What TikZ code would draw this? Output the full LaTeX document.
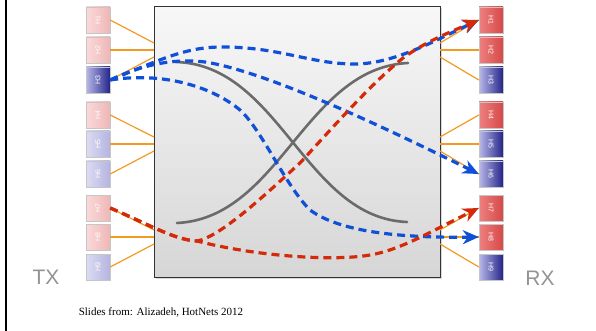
\documentclass[tikz,border=0pt]{standalone}
\usepackage{graphicx}
\usepackage{fontspec}
\setmainfont{Liberation Serif}
\newfontfamily\hv{Liberation Sans}
\usetikzlibrary{arrows.meta,shadows}
\definecolor{lnk}{HTML}{F39A22}
\definecolor{fblue}{HTML}{1050D8}
\definecolor{fred}{HTML}{D42A0A}
\definecolor{lredA}{HTML}{FADADA}
\definecolor{lredB}{HTML}{EFB6B6}
\definecolor{lblueA}{HTML}{DCDCF4}
\definecolor{lblueB}{HTML}{B4B4E0}
\definecolor{dblueA}{HTML}{B8B8E8}
\definecolor{dblueB}{HTML}{3434A0}
\definecolor{dblueC}{HTML}{24248A}
\definecolor{redA}{HTML}{EE8080}
\definecolor{redB}{HTML}{D64848}
\tikzset{
  host/.style={minimum width=24pt, minimum height=26pt, inner sep=0pt,
    font=\hv\fontsize{7}{7}\selectfont, text=white, draw=gray!45, line width=0.4pt,
    drop shadow={shadow xshift=1pt, shadow yshift=-1pt, opacity=0.25}},
  hlred/.style={host, left color=lredA, right color=lredB},
  hlblue/.style={host, left color=lblueA, right color=lblueB},
  hdblue/.style={host, left color=dblueA, middle color=dblueB, right color=dblueC},
  hred/.style={host, left color=redA, right color=redB},
  link/.style={draw=lnk, line width=1.2pt},
  switchbox/.style={minimum width=286pt, minimum height=270pt, inner sep=0pt,
    top color=gray!6, bottom color=gray!32, draw=black!80, line width=1pt,
    drop shadow={shadow xshift=1.5pt, shadow yshift=-1.5pt, opacity=0.3}},
  sway/.style={draw=black!58, line width=2.6pt, line cap=round},
  flow/.style={line width=3.2pt, dash pattern=on 8pt off 5pt,
    -{Stealth[length=16pt, width=14pt, inset=5pt]}},
  bflow/.style={flow, draw=fblue},
  rflow/.style={flow, draw=fred},
  sidelabel/.style={font=\hv\fontsize{21}{21}\selectfont, text=gray!85},
}
\begin{document}
\begin{tikzpicture}[x=1pt, y=-1pt]
\useasboundingbox (0,0) rectangle (596,331);
\draw[line width=2.6pt] (6,0) -- (6,331);

% switch
\node[switchbox] (sw) at (297,142) {};

% left hosts
\node[hlred]  (lh1) at (98,20)  {\rotatebox{90}{H1}};
\node[hlred]  (lh2) at (98,50)  {\rotatebox{90}{H2}};
\node[hdblue] (lh3) at (98,80)  {\rotatebox{90}{H3}};
\node[hlred]  (lh4) at (98,115) {\rotatebox{90}{H4}};
\node[hlblue] (lh5) at (98,144) {\rotatebox{90}{H5}};
\node[hlblue] (lh6) at (98,174) {\rotatebox{90}{H6}};
\node[hlred]  (lh7) at (98,208) {\rotatebox{90}{H7}};
\node[hlred]  (lh8) at (98,237) {\rotatebox{90}{H8}};
\node[hlblue] (lh9) at (98,267) {\rotatebox{90}{H9}};
% right hosts
\node[hred]   (rh1) at (491,20)  {\rotatebox{-90}{H1}};
\node[hred]   (rh2) at (491,50)  {\rotatebox{-90}{H2}};
\node[hdblue] (rh3) at (491,80)  {\rotatebox{-90}{H3}};
\node[hred]   (rh4) at (491,115) {\rotatebox{-90}{H4}};
\node[hdblue] (rh5) at (491,144) {\rotatebox{-90}{H5}};
\node[hdblue] (rh6) at (491,174) {\rotatebox{-90}{H6}};
\node[hred]   (rh7) at (491,208) {\rotatebox{-90}{H7}};
\node[hred]   (rh8) at (491,237) {\rotatebox{-90}{H8}};
\node[hdblue] (rh9) at (491,267) {\rotatebox{-90}{H9}};

% attachment points on the switch
\foreach \k/\yy in {1/43,2/50,3/57,4/137,5/144,6/151,7/230,8/237,9/244}{
  \coordinate (L\k) at (154,\yy);
  \coordinate (R\k) at (440,\yy);
}
\foreach \k in {1,...,9}{
  \draw[link] (lh\k.east) -- (L\k);
  \draw[link] (rh\k.west) -- (R\k);
}

% gray s-curves
\coordinate (g1a) at (176,62);  \coordinate (g1b) at (407,222);
\coordinate (g2a) at (177,223); \coordinate (g2b) at (408,63);
\draw[sway] (g1a) .. controls (280,65) and (305,218) .. (g1b);
\draw[sway] (g2a) .. controls (280,218) and (305,68) .. (g2b);

% blue flows from H3
\draw[bflow] (lh3.east) .. controls (160,60) and (185,47) .. (222,47)
  .. controls (280,47) and (310,64) .. (355,64)
  .. controls (395,64) and (440,38) .. (rh1.west);
\draw[bflow] (lh3.east) .. controls (140,66) and (170,58) .. (205,62)
  .. controls (270,72) and (400,135) .. (rh6.west);
\draw[bflow] (lh3.east) .. controls (160,72) and (210,85) .. (240,110)
  .. controls (262,130) and (285,185) .. (310,210)
  .. controls (340,232) and (400,238) .. (rh8.west);

% red flows from H7
\draw[rflow] (lh7.east) .. controls (150,225) and (175,240) .. (197,241)
  .. controls (220,237) and (265,195) .. (300,163)
  .. controls (335,125) and (370,85) .. (403,58)
  .. controls (425,42) and (450,32) .. (rh1.west);
\draw[rflow] (lh7.east) .. controls (150,225) and (175,240) .. (197,241)
  .. controls (250,255) and (330,262) .. (370,255)
  .. controls (400,250) and (430,232) .. (rh7.west);

% labels
\node[sidelabel] (tx) at (46,277) {TX};
\node[sidelabel] (rx) at (540,278) {RX};
\node[font=\fontsize{11}{13}\selectfont] (src) at (161,312) {Slides from: Alizadeh, HotNets 2012};
\end{tikzpicture}
\end{document}
